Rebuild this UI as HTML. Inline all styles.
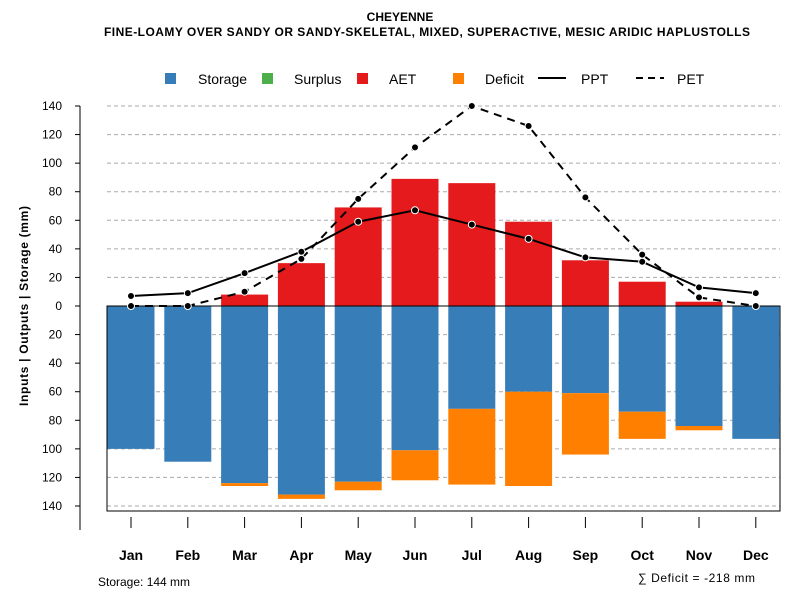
<!DOCTYPE html>
<html><head><meta charset="utf-8"><style>
body{margin:0;background:#fff;font-family:"Liberation Sans",sans-serif}
svg text{font-family:"Liberation Sans",sans-serif}
</style></head><body>
<svg id="c" width="800" height="600" xmlns="http://www.w3.org/2000/svg">
<text x="400" y="21" text-anchor="middle" font-size="12" font-weight="bold">CHEYENNE</text>
<text x="104" y="36" font-size="12" font-weight="bold" textLength="646" lengthAdjust="spacing">FINE-LOAMY OVER SANDY OR SANDY-SKELETAL, MIXED, SUPERACTIVE, MESIC ARIDIC HAPLUSTOLLS</text>
<g id="legend" font-size="14">
<rect x="165" y="73" width="11" height="11" fill="#377eb8"/><text x="198" y="84">Storage</text>
<rect x="262" y="73" width="11" height="11" fill="#4daf4a"/><text x="294" y="84">Surplus</text>
<rect x="357" y="73" width="11" height="11" fill="#e41a1c"/><text x="389" y="84">AET</text>
<rect x="453" y="73" width="11" height="11" fill="#ff7f00"/><text x="485" y="84">Deficit</text>
<line x1="538" y1="78" x2="566" y2="78" stroke="#000" stroke-width="2"/><text x="581" y="84">PPT</text>
<line x1="636" y1="78" x2="664" y2="78" stroke="#000" stroke-width="2" stroke-dasharray="7,5"/><text x="677" y="84">PET</text>
</g>
<text transform="translate(28,306) rotate(-90)" text-anchor="middle" font-size="12" font-weight="bold" textLength="200" lengthAdjust="spacing">Inputs | Outputs | Storage    (mm)</text>
<text x="98" y="586" font-size="12">Storage: 144 mm</text>
<text x="638" y="582" font-size="12" textLength="117" lengthAdjust="spacing">∑ Deficit = -218 mm</text>
</svg>
<script>
const months=["Jan","Feb","Mar","Apr","May","Jun","Jul","Aug","Sep","Oct","Nov","Dec"];
const aet=[0,0,8,30,69,89,86,59,32,17,3,0];
const storage=[100,109,124,132,123,101,72,60,61,74,84,93];
const deficit=[0,0,2,3,6,21,53,66,43,19,3,0];
const ppt=[7,9,23,38,59,67,57,47,34,31,13,9];
const pet=[0,0,10,33,75,111,140,126,76,36,6,0];
const yTicks=[140,120,100,80,60,40,20,0,20,40,60,80,100,120,140];
const NS="http://www.w3.org/2000/svg",svg=document.getElementById('c');
const y=v=>306-v*200/140;
const x=i=>131+i*56.8;
const bw=47;
function el(t,a,p){const e=document.createElementNS(NS,t);for(const k in a)e.setAttribute(k,a[k]);(p||svg).appendChild(e);return e;}
const g=el('g',{});


yTicks.forEach((t,k)=>{const v=k<7?t:(k==7?0:-t);const yy=y(v);
 const gl=el('line',{x1:107,x2:780,y1:yy,y2:yy,stroke:'#aaa','stroke-dasharray':'4,3'},g);
 
 
 el('line',{x1:75,x2:80,y1:yy,y2:yy,stroke:'#000'},g);
 const tx=el('text',{x:62,y:yy+4,'text-anchor':'end','font-size':12},g);tx.textContent=t;
 
 
});
el('line',{x1:80,x2:80,y1:106,y2:530,stroke:'#000'},g);
el('rect',{x:107,y:306,width:673,height:205,fill:'none',stroke:'#000'},g);
months.forEach((m,i)=>{const cx=x(i);
 const s=el('rect',{x:cx-bw/2,y:306,width:bw,height:y(-storage[i])-306,fill:'#377eb8'},g);
 
 
 if(deficit[i]>0){const d=el('rect',{x:cx-bw/2,y:y(-storage[i]),width:bw,height:y(-storage[i]-deficit[i])-y(-storage[i]),fill:'#ff7f00'},g);
 
 }
 if(aet[i]>0){const a=el('rect',{x:cx-bw/2,y:y(aet[i]),width:bw,height:306-y(aet[i]),fill:'#e41a1c'},g);
 
 }
 el('line',{x1:cx,x2:cx,y1:517,y2:528,stroke:'#000'},g);
 const t=el('text',{x:cx,y:560,'text-anchor':'middle','font-size':14,'font-weight':'bold'},g);t.textContent=m;
 
 
});
el('line',{x1:107,x2:780,y1:306,y2:306,stroke:'#000'},g);
function series(vals,name,dash){
 const l=el('polyline',{points:vals.map((v,i)=>x(i)+','+y(v)).join(' '),fill:'none',stroke:'#000','stroke-width':2,'stroke-dasharray':dash},g);
 
 
 vals.forEach((v,i)=>{const p=el('circle',{cx:x(i),cy:y(v),r:3.5,fill:'#000',stroke:'#fff','stroke-width':1},g);
 
 });
}
series(ppt,'ppt','none');
series(pet,'pet','8,6');
</script>
</body></html>
